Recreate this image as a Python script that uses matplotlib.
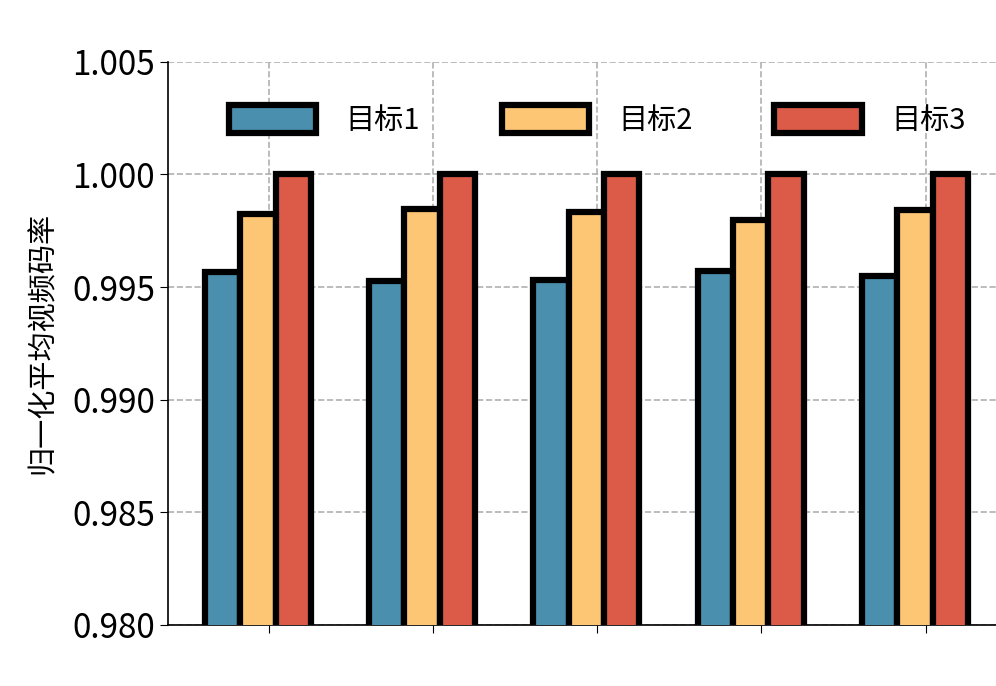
import matplotlib
matplotlib.use("Agg")
import matplotlib.pyplot as plt
import numpy as np

plt.rcParams['font.family'] = ['Noto Sans CJK SC', 'DejaVu Sans']

groups = [1, 2, 3, 4, 5]
series = ['目标1', '目标2', '目标3']
t1 = [0.99567, 0.99528, 0.9953, 0.99572, 0.9955]
t2 = [0.99825, 0.99847, 0.99834, 0.99798, 0.99843]
t3 = [1.0, 1.0, 1.0, 1.0, 1.0]
colors = ['#4a90ae', '#fdc674', '#dc5a48']

fig = plt.figure(figsize=(9.96, 6.86), dpi=100)
ax = fig.add_axes([0.169, 0.089, 0.861, 0.821])
x = np.arange(len(groups))
w = 0.215
offs = [-0.28, -0.065, 0.15]
for vals, c, o, lab in zip([t1, t2, t3], colors, offs, series):
    ax.bar(x + o, vals, width=w, color=c, edgecolor='black', linewidth=4.5, label=lab, zorder=3)
ax.set_ylim(0.98, 1.005)
ax.set_xlim(-0.61, 4.61)
ax.set_yticks([0.980, 0.985, 0.990, 0.995, 1.000, 1.005])
ax.set_yticklabels(['0.980', '0.985', '0.990', '0.995', '1.000', '1.005'])
ax.set_xticks(x)
ax.set_xticklabels([])
ax.tick_params(axis='y', labelsize=24, length=6)
ax.tick_params(axis='x', length=6)
ax.set_ylabel('归一化平均视频码率', fontsize=21, labelpad=10)
ax.grid(True, linestyle='--', color='#b0b0b0', linewidth=1.2, zorder=0)
for s in ['top', 'right']:
    ax.spines[s].set_visible(False)
ax.spines['left'].set_linewidth(1.2)
ax.spines['bottom'].set_linewidth(1.2)
ax.legend(loc='upper center', bbox_to_anchor=(0.5, 0.97), ncol=3, frameon=False,
          fontsize=21, handlelength=3.0, handleheight=1.1, handletextpad=1.0, columnspacing=2.8)
fig.savefig('out.png', dpi=100)
